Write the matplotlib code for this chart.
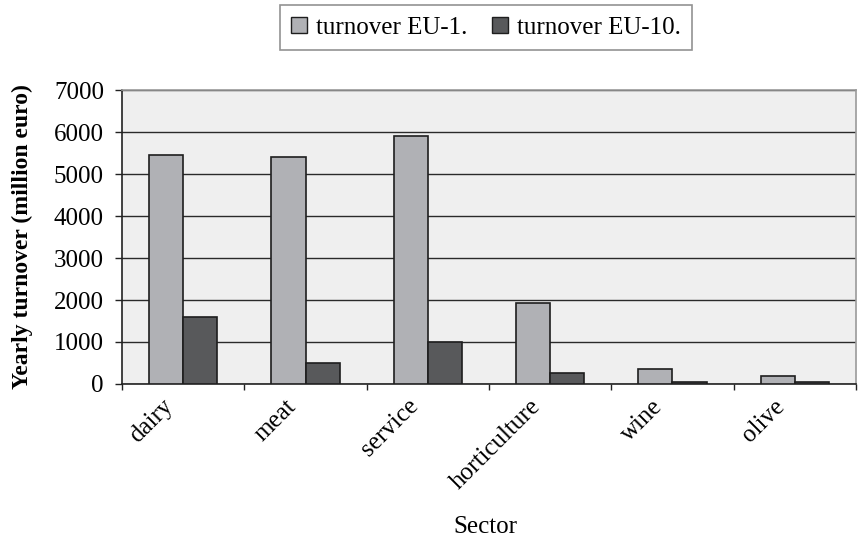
import numpy as np
import matplotlib.pyplot as plt
from matplotlib.patches import Patch
from matplotlib.transforms import ScaledTranslation

sectors = ["dairy", "meat", "service", "horticulture", "wine", "olive"]
turnover_eu1 = [5450, 5410, 5900, 1930, 350, 180]
turnover_eu10 = [1590, 490, 1000, 270, 40, 40]

plt.rcParams["font.family"] = ["Liberation Serif", "DejaVu Serif"]

fig = plt.figure(figsize=(8.6, 5.4), dpi=100)
ax = fig.add_axes([0.1419, 0.2889, 0.8534, 0.5444])
ax.set_facecolor("#efefef")

x = np.arange(len(sectors))
w = 0.28
ax.bar(x - w / 2, turnover_eu1, width=w, color="#b0b1b5", edgecolor="#1e1e1e",
       linewidth=1.2, zorder=3)
ax.bar(x + w / 2, turnover_eu10, width=w, color="#58595b", edgecolor="#1e1e1e",
       linewidth=1.2, zorder=3)

ax.set_xlim(-0.5, len(sectors) - 0.5)
ax.set_ylim(0, 7000)
ax.set_yticks(range(0, 7001, 1000))
ax.yaxis.grid(True, color="#2a2a2a", linewidth=1.0, zorder=1)
ax.set_axisbelow(True)

# ticks on category boundaries, labels at centres
ax.set_xticks(np.arange(-0.5, len(sectors), 1.0))
ax.set_xticklabels([])
ax.set_xticks(x, minor=True)
ax.set_xticklabels(sectors, minor=True, rotation=45, ha="right",
                   rotation_mode="anchor", fontsize=18)
ax.tick_params(axis="x", which="minor", length=0, pad=8)
ax.tick_params(axis="x", which="major", length=4.5, width=1, color="#222222",
               direction="out")
ax.tick_params(axis="y", length=5, width=1, color="#222222", labelsize=18,
               pad=8)
# nudge the slanted labels left, like the original layout
shift = ScaledTranslation(-15 / 72, 0, fig.dpi_scale_trans)
for lbl in ax.get_xticklabels(minor=True):
    lbl.set_transform(lbl.get_transform() + shift)

for side in ["top", "right"]:
    ax.spines[side].set_color("#9a9a9a")
    ax.spines[side].set_linewidth(1.2)
for side in ["left", "bottom"]:
    ax.spines[side].set_color("#222222")
    ax.spines[side].set_linewidth(1.2)

ax.set_ylabel("Yearly turnover (million euro)", fontsize=17, fontweight="bold")
ax.yaxis.set_label_coords(-0.121, 0.5)
fig.text(0.5645, 0.024, "Sector", ha="center", va="center", fontsize=18)

handles = [
    Patch(facecolor="#b0b1b5", edgecolor="#1e1e1e", label="turnover EU-1."),
    Patch(facecolor="#58595b", edgecolor="#1e1e1e", label="turnover EU-10."),
]
leg = fig.legend(handles=handles, loc="center", bbox_to_anchor=(0.565, 0.949),
                 ncol=2, fontsize=18, frameon=True, fancybox=False,
                 handlelength=0.64, handleheight=0.64, handletextpad=0.36,
                 columnspacing=1.0, borderpad=0.45, borderaxespad=0)
leg.get_frame().set_edgecolor("#777777")
leg.get_frame().set_linewidth(1.2)

fig.savefig("out.png", dpi=100)
